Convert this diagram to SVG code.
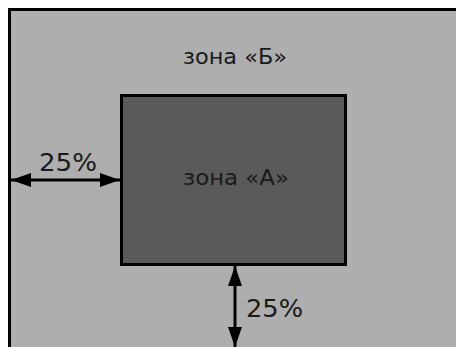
<svg xmlns="http://www.w3.org/2000/svg" width="456" height="347" viewBox="0 0 456 347">
<style>
.t{font-family:"DejaVu Sans","Liberation Sans",sans-serif;font-size:21px;fill:#1a1a1a}
.n{font-family:"DejaVu Sans","Liberation Sans",sans-serif;font-size:24px;fill:#1a1a1a}
.c{stroke:#000;stroke-width:3;fill:none}
</style>
<defs>
<marker id="ah" viewBox="0 0 20 14" refX="20" refY="7" markerWidth="20" markerHeight="14" markerUnits="userSpaceOnUse" orient="auto-start-reverse">
<path d="M0,0 L20,7 L0,14 Z" fill="#000"/>
</marker>
</defs>
<rect width="456" height="347" fill="#fff"/>
<g id="zoneB">
<rect x="9.5" y="9.5" width="460" height="350" fill="#aeaeae" stroke="#000" stroke-width="3"/>
<text class="t" x="183" y="64" textLength="104" lengthAdjust="spacingAndGlyphs">зона «Б»</text>
</g>
<g id="zoneA">
<rect x="121.5" y="95.5" width="224" height="169" fill="#5a5a5a" stroke="#000" stroke-width="3"/>
<text class="t" x="183" y="185" textLength="106" lengthAdjust="spacingAndGlyphs">зона «А»</text>
</g>
<g id="connectors">
<line class="c" x1="11" y1="180" x2="120" y2="180" marker-start="url(#ah)" marker-end="url(#ah)"/>
<line class="c" x1="235" y1="266" x2="235" y2="347" marker-start="url(#ah)" marker-end="url(#ah)"/>
</g>
<text class="n" x="39" y="171" textLength="58" lengthAdjust="spacingAndGlyphs">25%</text>
<text class="n" x="246" y="317" textLength="57" lengthAdjust="spacingAndGlyphs">25%</text>
</svg>
